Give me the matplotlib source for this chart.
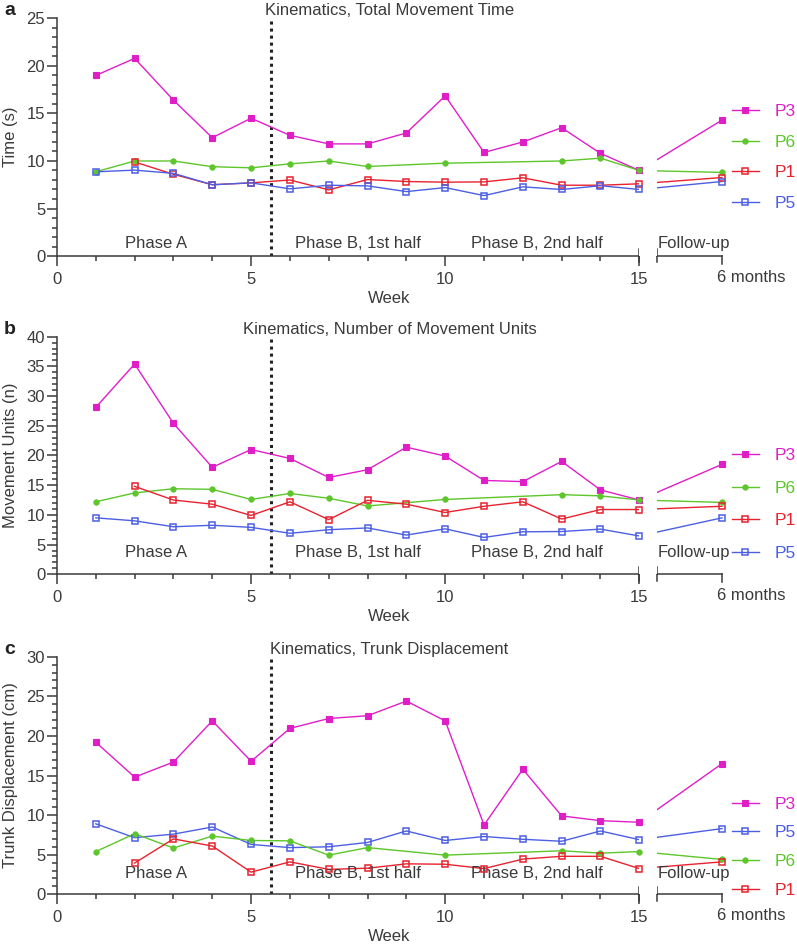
import numpy as np
import matplotlib.pyplot as plt
from matplotlib.lines import Line2D
from matplotlib.ticker import MultipleLocator

plt.rcParams['font.family'] = ['Liberation Sans', 'DejaVu Sans']
plt.rcParams['font.size'] = 12

nan = np.nan
weeks = list(range(1, 16))
follow_label = '6 months'

# panel a: total movement time (s), weeks 1-15 then 6 months
time_p3 = [19.0, 20.8, 16.4, 12.45, 14.5, 12.7, 11.8, 11.8, 12.95, 16.85, 10.9, 12.0, 13.5, 10.8, 9.0, 14.3]
time_p6 = [8.86, 10.0, 10.0, 9.4, 9.28, 9.7, 10.0, 9.42, nan, 9.77, nan, nan, 10.0, 10.3, 9.0, 8.8]
time_p1 = [nan, 9.9, 8.6, 7.5, 7.7, 8.0, 6.96, 8.05, 7.84, 7.77, 7.8, 8.23, 7.45, 7.45, 7.6, 8.26]
time_p5 = [8.86, 9.04, 8.7, 7.5, 7.7, 7.07, 7.45, 7.38, 6.78, 7.2, 6.36, 7.28, 7.0, 7.4, 7.0, 7.84]

# panel b: number of movement units
mu_p3 = [28.1, 35.4, 25.4, 18.0, 21.0, 19.5, 16.3, 17.6, 21.4, 19.9, 15.8, 15.6, 19.0, 14.2, 12.5, 18.5]
mu_p6 = [12.2, 13.7, 14.4, 14.3, 12.6, 13.6, 12.8, 11.5, nan, 12.6, nan, nan, 13.4, 13.2, 12.5, 12.1]
mu_p1 = [nan, 14.8, 12.5, 11.8, 9.9, 12.2, 9.2, 12.45, 11.8, 10.4, 11.45, 12.2, 9.3, 10.9, 10.9, 11.45]
mu_p5 = [9.5, 9.0, 8.0, 8.25, 7.9, 6.9, 7.5, 7.8, 6.6, 7.65, 6.2, 7.15, 7.2, 7.6, 6.45, 9.5]

# panel c: trunk displacement (cm)
td_p3 = [19.2, 14.8, 16.7, 21.9, 16.8, 20.95, 22.2, 22.55, 24.4, 21.9, 8.75, 15.8, 9.9, 9.3, 9.1, 16.5]
td_p5 = [8.9, 7.15, 7.6, 8.5, 6.3, 5.9, 6.0, 6.55, 8.0, 6.8, 7.3, 6.95, 6.7, 8.0, 6.9, 8.3]
td_p6 = [5.4, 7.65, 5.85, 7.35, 6.8, 6.75, 4.95, 5.9, nan, 4.95, nan, nan, 5.5, 5.2, 5.4, 4.4]
td_p1 = [nan, 3.95, 7.0, 6.1, 2.8, 4.1, 3.15, 3.3, 3.85, 3.8, 3.25, 4.45, 4.8, 4.8, 3.25, 4.1]

phase_names = ['Phase A', 'Phase B, 1st half', 'Phase B, 2nd half', 'Follow-up']

# layout helpers
six_mo = 17.13      # where the 6 month point sits on the x scale
fu_start = 15.46    # start of the follow-up axis piece
phase_x = [2.54, 7.74, 12.36, fu_start]
ink = '#3a3a3a'

style = {
    'P3': dict(color='#E01EC8', marker='s', ms=4.8, mfc='#E01EC8', mew=0.8),
    'P6': dict(color='#5CC62A', marker='o', ms=4, mfc='#5CC62A', mew=0.5),
    'P1': dict(color='#E8222E', marker='s', ms=4.6, mfc='none', mew=1.1),
    'P5': dict(color='#4C5FE4', marker='s', ms=4.6, mfc='none', mew=1.1),
}


def panel(ax, letter, title, ylabel, ymax, series, phase_y, leg_y, leg_sp):
    xs = np.array(weeks + [six_mo], dtype=float)
    for name, vals in series:
        st = style[name]
        v = np.array(vals, dtype=float)
        ok = ~np.isnan(v)
        ax.plot(xs[ok], v[ok], color=st['color'], lw=1.0, zorder=2, clip_on=False)
        ax.plot(xs[ok], v[ok], ls='none', marker=st['marker'], ms=st['ms'],
                mfc=st['mfc'], mec=st['color'], mew=st['mew'], zorder=4, clip_on=False)

    # hide the part of the lines in the axis break
    ax.axvspan(15, fu_start, color='white', zorder=3, lw=0)

    ax.axvline(5.5, color='#222222', lw=2.2, ls=(0, (1, 1.3)), zorder=1)

    ax.set_xlim(0, six_mo)
    ax.set_ylim(0, ymax)
    ax.set_xticks([0, 5, 10, 15])
    ax.set_xticks([w for w in weeks if w % 5], minor=True)
    ax.yaxis.set_major_locator(MultipleLocator(5))
    ax.yaxis.set_minor_locator(MultipleLocator(1))
    ax.tick_params(which='major', length=7.5, width=1.1, color=ink, labelcolor=ink)
    ax.tick_params(which='minor', length=3.5, width=1.1, color=ink)
    ax.tick_params(axis='y', pad=1)
    ax.tick_params(axis='x', pad=4)

    for s in ['top', 'right']:
        ax.spines[s].set_visible(False)
    for s in ['left', 'bottom']:
        ax.spines[s].set_color(ink)
        ax.spines[s].set_linewidth(1.1)
    ax.spines['bottom'].set_bounds(0, 15)

    tr = ax.get_xaxis_transform()
    ax.plot([fu_start, six_mo], [0, 0], transform=tr, color=ink, lw=1.1, clip_on=False)
    ax.plot([six_mo, six_mo], [0, -0.032], transform=tr, color=ink, lw=1.1, clip_on=False)
    for bx in [15, fu_start]:
        ax.plot([bx, bx], [-0.027, 0.03], transform=tr, color=ink, lw=1.1, clip_on=False)
    ax.annotate(follow_label, xy=(six_mo, 0), xycoords=tr, xytext=(-3.3, -10),
                textcoords='offset points', ha='left', va='top', color=ink)

    for px, name in zip(phase_x, phase_names):
        ax.text(px, phase_y, name, transform=tr, ha='left' if name == 'Follow-up' else 'center',
                va='baseline', color=ink)

    ax.set_title(title, pad=1, color=ink, fontsize=12)
    ax.set_xlabel('Week', color=ink, labelpad=3)
    ax.set_ylabel(ylabel, color=ink, labelpad=6)

    handles = [Line2D([0], [0], color=style[n]['color'], lw=1.0, marker=style[n]['marker'],
                      ms=style[n]['ms'], mfc=style[n]['mfc'], mec=style[n]['color'],
                      mew=style[n]['mew']) for n, _ in series]
    leg = ax.legend(handles, [n for n, _ in series], loc='center left',
                    bbox_to_anchor=(1.0146, leg_y), frameon=False, borderpad=0,
                    borderaxespad=0, handlelength=1.56, handletextpad=0.9,
                    labelspacing=leg_sp, fontsize=12.5)
    for t, (n, _) in zip(leg.get_texts(), series):
        t.set_color(style[n]['color'])

    fig.text(0.005, ax.get_position().y1 + 0.008, letter,
             fontweight='bold', fontsize=14, color='#222222', ha='left', va='center')


fig = plt.figure(figsize=(7.97, 9.5), dpi=100)
ax_a = fig.add_axes([0.0715, 0.7305, 0.8344, 0.2501])
ax_b = fig.add_axes([0.0715, 0.3955, 0.8344, 0.2501])
ax_c = fig.add_axes([0.0715, 0.0586, 0.8344, 0.2501])

panel(ax_a, 'a', 'Kinematics, Total Movement Time', 'Time (s)', 25,
      [('P3', time_p3), ('P6', time_p6), ('P1', time_p1), ('P5', time_p5)], 0.032, 0.4146, 0.9)
panel(ax_b, 'b', 'Kinematics, Number of Movement Units', 'Movement Units (n)', 40,
      [('P3', mu_p3), ('P6', mu_p6), ('P1', mu_p1), ('P5', mu_p5)], 0.074, 0.294, 1.0)
panel(ax_c, 'c', 'Kinematics, Trunk Displacement', 'Trunk Displacement (cm)', 30,
      [('P3', td_p3), ('P5', td_p5), ('P6', td_p6), ('P1', td_p1)], 0.067, 0.199, 0.78)

fig.savefig('out.png', dpi=100)
